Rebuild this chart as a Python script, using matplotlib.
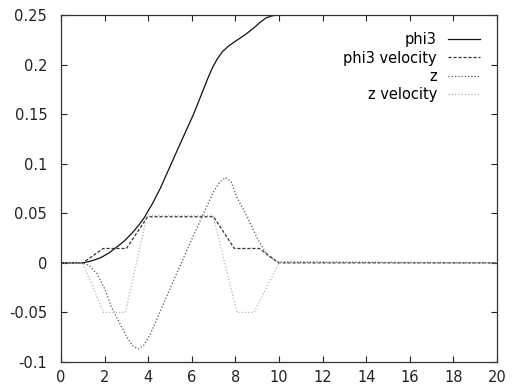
import matplotlib
matplotlib.use("Agg")
import matplotlib.pyplot as plt

plt.rcParams['font.family'] = ['DejaVu Sans']

# phi3 (solid)
phi3_x = [0, 1.0, 1.4, 1.8, 2.2, 2.5, 2.9, 3.3, 3.6, 3.8, 4.2, 4.55, 5.3, 6.1, 6.75,
          6.95, 7.15, 7.4, 7.7, 8.1, 8.5, 8.9, 9.15, 9.4, 9.65, 9.9, 20]
phi3_y = [0, 0, 0.002, 0.005, 0.010, 0.015, 0.022, 0.031, 0.039, 0.045, 0.060, 0.075,
          0.112, 0.151, 0.187, 0.197, 0.205, 0.213, 0.219, 0.225, 0.231, 0.238, 0.243,
          0.247, 0.249, 0.25, 0.25]

# phi3 velocity (dashed)
phi3v_x = [0, 1.0, 1.94, 3.0, 3.97, 7.0, 7.95, 9.1, 9.98, 20]
phi3v_y = [0, 0, 0.0145, 0.0145, 0.0465, 0.0465, 0.0145, 0.0145, 0, 0]

# z (dotted, darker)
z_x = [0, 1.0, 1.3, 1.65, 2.0, 2.34, 2.72, 3.0, 3.3, 3.55, 3.8, 4.1, 4.55, 5.0, 5.5,
       6.0, 6.54, 7.0, 7.3, 7.55, 7.8, 8.07, 8.53, 9.0, 9.45, 9.9, 20]
z_y = [0, 0, -0.003, -0.011, -0.026, -0.046, -0.062, -0.074, -0.084, -0.087, -0.083,
       -0.072, -0.049, -0.026, -0.001, 0.024, 0.050, 0.072, 0.082, 0.086, 0.082, 0.066,
       0.047, 0.025, 0.008, 0.001, 0]

# z velocity (dotted, light)
zv_x = [0, 1.0, 1.95, 2.95, 3.95, 6.97, 8.07, 8.85, 10.0, 20]
zv_y = [0, 0, -0.05, -0.05, 0.048, 0.048, -0.05, -0.05, 0, 0]

xticks = [0, 2, 4, 6, 8, 10, 12, 14, 16, 18, 20]
yticks = [-0.1, -0.05, 0, 0.05, 0.1, 0.15, 0.2, 0.25]
yticklabels = ['-0.1', '-0.05', '0', '0.05', '0.1', '0.15', '0.2', '0.25']

fig = plt.figure(figsize=(5.18, 3.90), dpi=100)
ax = fig.add_axes([0.1178, 0.0718, 0.8417, 0.8897])

ax.plot(phi3_x, phi3_y, color='#111111', lw=0.9, ls='-', label='phi3')
ax.plot(phi3v_x, phi3v_y, color='#333333', lw=0.9, ls=(0, (2.5, 1.5)), label='phi3 velocity')
ax.plot(z_x, z_y, color='#555555', lw=0.9, ls=(0, (1, 1.6)), label='z')
ax.plot(zv_x, zv_y, color='#b5b5b5', lw=0.9, ls=(0, (1, 1.6)), label='z velocity')

ax.set_xlim(0, 20)
ax.set_ylim(-0.1, 0.25)
ax.set_xticks(xticks)
ax.set_xticklabels([str(t) for t in xticks])
ax.set_yticks(yticks)
ax.set_yticklabels(yticklabels)
ax.tick_params(direction='in', length=4, width=0.8, top=True, right=True,
               labelsize=10.5, colors='#222222')
ax.tick_params(axis='y', pad=10)
ax.tick_params(axis='x', pad=6)
for s in ax.spines.values():
    s.set_linewidth(0.9)
    s.set_color('#333333')

leg = ax.legend(loc='upper right', bbox_to_anchor=(0.961, 0.95), frameon=False,
                markerfirst=False, fontsize=10.5, borderpad=0, borderaxespad=0,
                handlelength=2.2, handletextpad=0.75, labelspacing=0.22)

fig.savefig('out.png', dpi=100)
